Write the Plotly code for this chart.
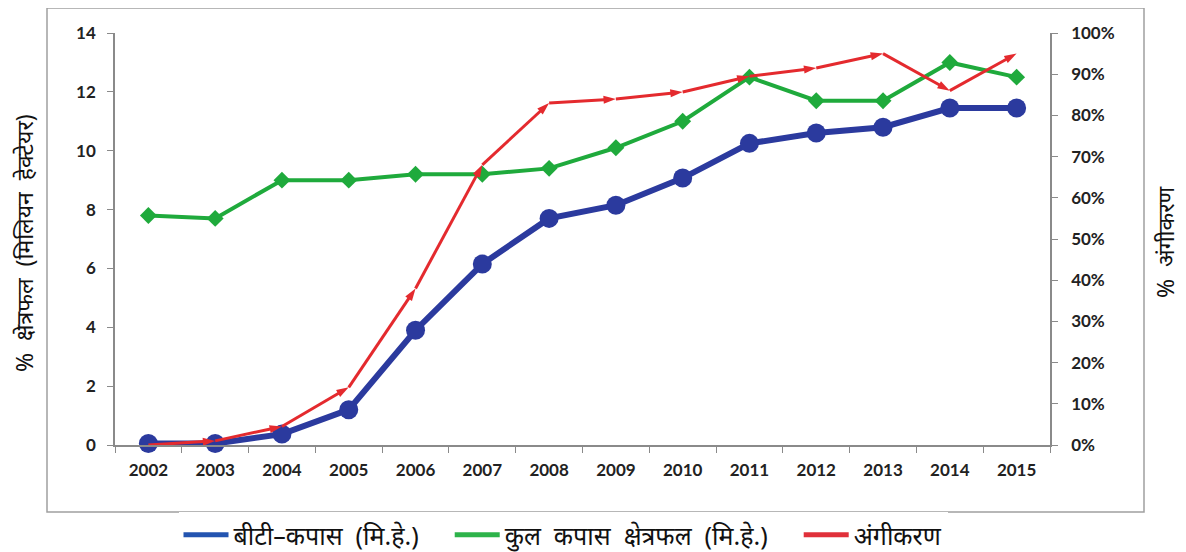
import plotly.graph_objects as go

years = [str(y) for y in range(2002, 2016)]
bt_area = [0.05, 0.05, 0.37, 1.2, 3.9, 6.15, 7.7, 8.15, 9.07, 10.25, 10.6, 10.8, 11.45, 11.45]
total_area = [7.8, 7.7, 9.0, 9.0, 9.2, 9.2, 9.4, 10.1, 11.0, 12.5, 11.7, 11.7, 13.0, 12.5]
adoption = [0.0, 0.01, 0.045, 0.14, 0.38, 0.68, 0.83, 0.84, 0.857, 0.895, 0.915, 0.95, 0.86, 0.95]

S = "\u00a0\u00a0"
names = ["<i>बीटी</i>–कपास" + S + "(मि.हे.)" + S + S,
         "कुल" + S + "कपास" + S + "क्षेत्रफल" + S + "(मि.हे.)" + S + S,
         "अंगीकरण"]
left_title = "%" + S + "क्षेत्रफल" + S + "(मिलियन" + S + "हेक्टेयर)"
right_title = "%" + S + "अंगीकरण"

BLUE = "#2B3A9E"
GREEN = "#1FAA3C"
RED = "#E42A2E"
FONT = "Noto Sans, DejaVu Sans, sans-serif"
TICKFONT = dict(family="Lato, sans-serif", size=17, color="#222", weight="bold")

fig = go.Figure()
fig.add_trace(go.Scatter(x=years, y=total_area, mode="lines+markers", showlegend=False,
                         line=dict(color=GREEN, width=4),
                         marker=dict(symbol="diamond", size=13, color=GREEN),
                         cliponaxis=False, yaxis="y"))
fig.add_trace(go.Scatter(x=years, y=adoption, mode="lines+markers", showlegend=False,
                         line=dict(color=RED, width=3),
                         marker=dict(symbol="arrow", size=13, color=RED, angleref="previous"),
                         cliponaxis=False, yaxis="y2"))
fig.add_trace(go.Scatter(x=years, y=bt_area, mode="lines+markers", showlegend=False,
                         line=dict(color=BLUE, width=6),
                         marker=dict(symbol="circle", size=19, color=BLUE),
                         cliponaxis=False, yaxis="y"))

# legend entries (lines only, as in the reference)
for nm, col in zip(names, ["#2354B0", "#2DB34A", "#E0303A"]):
    fig.add_trace(go.Scatter(x=[None], y=[None], mode="lines", name=nm,
                             line=dict(color=col, width=5), yaxis="y"))

axis_line = "#8A8A8A"
# page body adds an 8px offset; figure is sized to fit the window
fig.update_layout(
    width=1178, height=544,
    margin=dict(l=107, r=136, t=25, b=107, autoexpand=False),
    paper_bgcolor="white", plot_bgcolor="white",
    font=dict(family=FONT, color="#222"),
    xaxis=dict(type="category", showgrid=False, showline=True, linecolor=axis_line, linewidth=1.5,
               ticks="outside", tickson="boundaries", ticklen=6, tickcolor=axis_line,
               tickfont=TICKFONT, ticklabelstandoff=9, range=[-0.5, 13.5]),
    yaxis=dict(range=[0, 14], dtick=2, showgrid=False, showline=True, linecolor=axis_line,
               linewidth=1.5, ticks="outside", ticklen=6, tickcolor=axis_line,
               tickfont=TICKFONT, ticklabelstandoff=8, zeroline=False),
    yaxis2=dict(range=[0, 1], dtick=0.1, tickformat=".0%", overlaying="y", side="right",
                showgrid=False, showline=True, linecolor=axis_line, linewidth=1.5,
                ticks="outside", ticklen=6, tickcolor=axis_line,
                tickfont=TICKFONT, ticklabelstandoff=10, zeroline=False),
    legend=dict(orientation="h", x=(563 - 115) / 935, xanchor="center",
                y=(445 - 535) / 412, yanchor="middle",
                font=dict(size=25, color="#111"), itemwidth=45, traceorder="normal"),
    showlegend=True,
)

fig.add_shape(type="rect", xref="paper", yref="paper",
              x0=(47 - 115) / 935, x1=(1144 - 115) / 935,
              y0=(445 - 512) / 412, y1=(445 - 8) / 412,
              line=dict(color="#A0A0A0", width=1.5), fillcolor="rgba(0,0,0,0)", layer="below")

fig.add_annotation(text=left_title, textangle=-90, xref="paper", yref="paper",
                   x=(24 - 115) / 935, y=(445 - 243) / 412, xanchor="center", yanchor="middle",
                   showarrow=False, font=dict(size=23, color="#111"))
fig.add_annotation(text=right_title, textangle=-90, xref="paper", yref="paper",
                   x=(1165 - 115) / 935, y=(445 - 242) / 412, xanchor="center", yanchor="middle",
                   showarrow=False, font=dict(size=23, color="#111"))

fig.write_html("out.html")
